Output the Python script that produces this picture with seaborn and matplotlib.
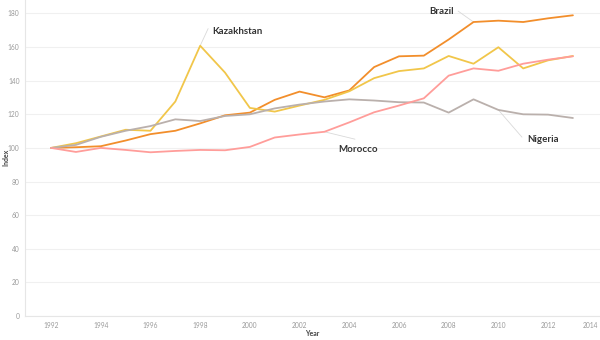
import matplotlib
matplotlib.use("Agg")
import matplotlib.pyplot as plt
import seaborn as sns
import pandas as pd

years = list(range(1992, 2014))

brazil = [100.0, 100.4, 101.0, 104.4, 108.2, 110.2, 114.6, 119.4, 121.0, 128.6, 133.5,
          130.1, 134.2, 148.1, 154.5, 154.9, 164.5, 174.9, 175.7, 174.9, 177.1, 178.9]
kazakhstan = [100.0, 102.8, 106.8, 110.8, 110.2, 127.6, 160.8, 144.8, 123.8, 121.6, 125.2,
              128.6, 133.7, 141.5, 145.7, 147.3, 154.7, 150.1, 159.9, 147.3, 152.1, 154.7]
nigeria = [100.0, 101.8, 106.6, 110.2, 113.0, 117.0, 116.0, 119.0, 120.0, 123.5, 125.8,
           127.6, 128.9, 128.2, 127.2, 127.0, 121.0, 128.9, 122.6, 120.0, 119.8, 117.8]
morocco = [100.0, 97.6, 100.0, 98.8, 97.4, 98.2, 98.8, 98.6, 100.6, 106.2, 108.0,
           109.6, 115.2, 121.2, 125.2, 129.5, 143.0, 147.3, 145.9, 150.1, 152.5, 154.5]

countries = ["Brazil", "Kazakhstan", "Nigeria", "Morocco"]
series = [brazil, kazakhstan, nigeria, morocco]
colors = {"Brazil": "#f28e2b", "Kazakhstan": "#f1c64a",
          "Nigeria": "#bab0ac", "Morocco": "#ff9d9a"}

y_ticks = list(range(0, 181, 20))
x_ticks = list(range(1992, 2015, 2))

df = pd.DataFrame({
    "Year": [y for _ in countries for y in years],
    "Index": [v for s in series for v in s],
    "Country": [c for c in countries for _ in years],
})

sns.set_theme(style="white")
plt.rcParams["font.family"] = ["Lato", "DejaVu Sans"]

fig = plt.figure(figsize=(6, 3.4), dpi=100)
ax = fig.add_axes([25 / 600, 24 / 340, 575 / 600, 316 / 340])

sns.lineplot(data=df, x="Year", y="Index", hue="Country", palette=colors,
             linewidth=1.3, legend=False, ax=ax, zorder=3)

ax.set_xlim(1990.95, 2014.09)
ax.set_ylim(0, 188)
ax.set_yticks(y_ticks)
ax.set_xticks(x_ticks)
ax.set_yticklabels([str(t) for t in y_ticks])
ax.set_xticklabels([str(t) for t in x_ticks])
ax.grid(axis="y", color="#f0f0f0", linewidth=0.8, zorder=0)
ax.grid(axis="x", visible=False)
ax.tick_params(axis="both", labelsize=4.8, labelcolor="#9a9a9a", length=0, pad=4)
ax.get_xticklabels()[-1].set_horizontalalignment("right")
for side in ("top", "right"):
    ax.spines[side].set_visible(False)
ax.spines["left"].set_color("#e6e6e6")
ax.spines["left"].set_linewidth(0.8)
ax.spines["bottom"].set_color("#e6e6e6")
ax.spines["bottom"].set_linewidth(0.8)

ax.set_xlabel("")
ax.set_ylabel("")
fig.text(312 / 600, 1 - 333 / 340, "Year", fontsize=5, fontweight="bold",
         color="#444444", ha="center", va="center")
fig.text(6 / 600, 1 - 157 / 340, "Index", fontsize=5, fontweight="bold",
         color="#444444", ha="center", va="center", rotation=90)

# country labels with thin leader lines to a point on each series
labels = [
    ("Kazakhstan", 1998, kazakhstan[6], 1998.32, 171.0, 1998.48, 169.5, "left"),
    ("Brazil", 2009, brazil[17], 2008.38, 181.4, 2008.22, 181.0, "right"),
    ("Morocco", 2003, morocco[11], 2004.23, 105.2, 2003.55, 99.2, "left"),
    ("Nigeria", 2010, nigeria[18], 2010.95, 106.4, 2011.15, 105.2, "left"),
]
for name, px, py, lx, ly, tx, ty, ha in labels:
    ax.plot([px, lx], [py, ly], color="#d9d9d9", linewidth=0.6, zorder=2)
    ax.text(tx, ty, name, fontsize=7, fontweight="bold", color="#333333",
            ha=ha, va="center", zorder=4)

fig.savefig("out.png", dpi=100, facecolor="white")
